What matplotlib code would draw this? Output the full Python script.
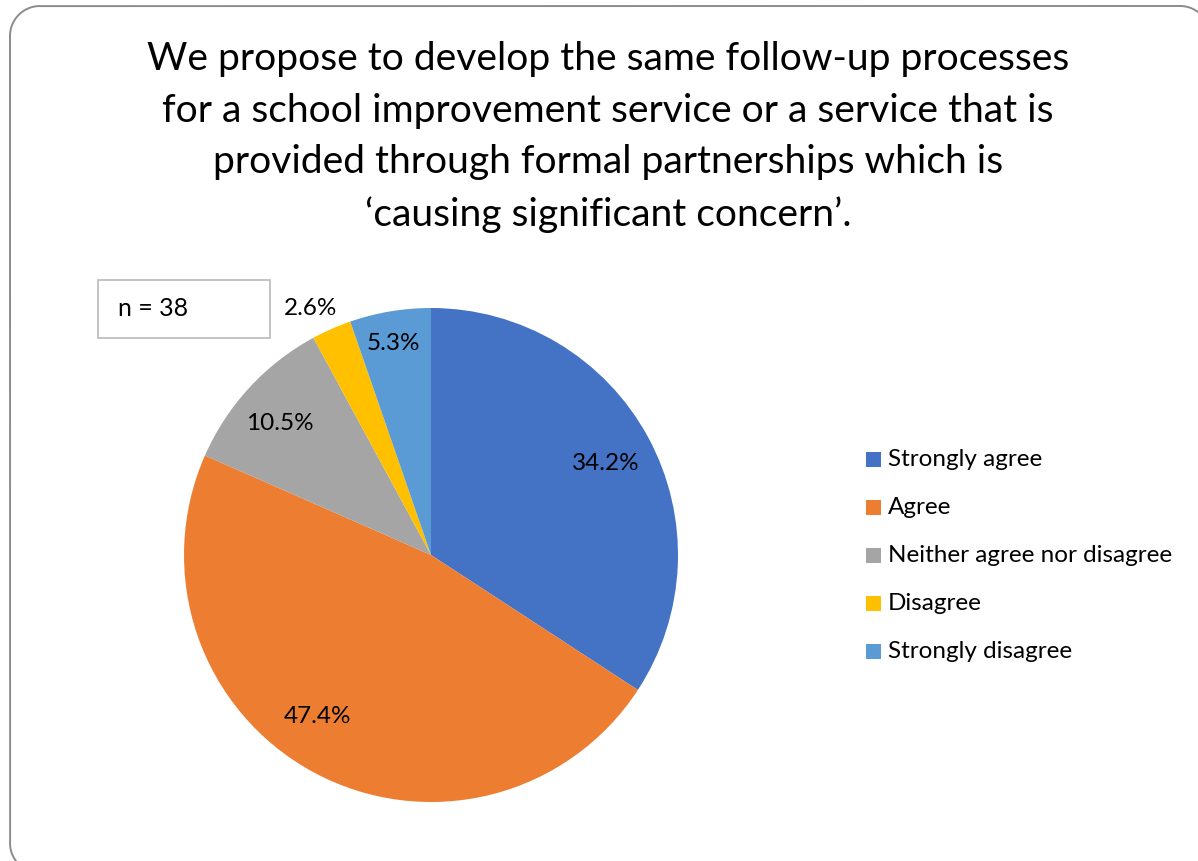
import matplotlib
matplotlib.use("Agg")
import matplotlib.pyplot as plt
import numpy as np
from matplotlib.patches import Rectangle

plt.rcParams['font.family'] = ['Lato', 'DejaVu Sans']

title_text = ("We propose to develop the same follow-up processes\n"
              "for a school improvement service or a service that is\n"
              "provided through formal partnerships which is\n"
              "\u2018causing significant concern\u2019.")
categories = ["Strongly agree", "Agree", "Neither agree nor disagree",
              "Disagree", "Strongly disagree"]
percentages = [34.2, 47.4, 10.5, 2.6, 5.3]
colors = ["#4472C4", "#ED7D31", "#A5A5A5", "#FFC000", "#5B9BD5"]
sample_note = "n = 38"

W, H = 1198, 861
fig = plt.figure(figsize=(W / 100, H / 100), dpi=100)
fig.patch.set_facecolor("white")

# pixel-space axes spanning the whole canvas
ax = fig.add_axes([0, 0, 1, 1])

cx, cy, r = 431, H - 555, 247
wedges, _ = ax.pie(percentages, colors=colors, startangle=90, counterclock=False,
                   radius=r, center=(cx, cy), frame=True,
                   wedgeprops=dict(linewidth=0))
ax.set_xlim(0, W)
ax.set_ylim(0, H)
ax.set_aspect("equal")
ax.axis("off")

# rounded slide frame, built corner by corner
def rounded_outline(x0, y0, x1, y1, rad, n=40):
    pts = []
    corners = [(x1 - rad, y1 - rad, 0, 90), (x0 + rad, y1 - rad, 90, 180),
               (x0 + rad, y0 + rad, 180, 270), (x1 - rad, y0 + rad, 270, 360)]
    for ccx, ccy, a0, a1 in corners:
        t = np.radians(np.linspace(a0, a1, n))
        pts.append(np.column_stack([ccx + rad * np.cos(t), ccy + rad * np.sin(t)]))
    pts = np.vstack(pts + [pts[0][:1]])
    return pts[:, 0], pts[:, 1]

fx, fy = rounded_outline(10, H - 873, 1210, H - 6, 30)
ax.plot(fx, fy, color="#8c8c8c", lw=1.4, zorder=0)

ax.text(608, H - 137, title_text, ha="center", va="center",
        fontsize=28.1, linespacing=1.54, color="#000000")

label_fs = 17.5

# label placement: radial factor and angular nudge per slice
label_radius = [0.80, 0.80, 0.81, 1.11, 0.87]
label_nudge = [-0.8, -6.6, 1.7, 2.2, 0.5]
cum = np.cumsum([0] + percentages)
for i, p in enumerate(percentages):
    mid = 90 - 360 * (cum[i] + p / 2) / 100 + label_nudge[i]
    rr = r * label_radius[i]
    x = cx + rr * np.cos(np.radians(mid))
    y = cy + rr * np.sin(np.radians(mid))
    ax.text(x, y, f"{p:.1f}%", ha="center", va="center", fontsize=label_fs,
            color="#000000")

# sample size box
ax.add_patch(Rectangle((98, H - 338), 172, 58, fc="white", ec="#bfbfbf", lw=1.3))
ax.text(118, H - 309, sample_note, ha="left", va="center", fontsize=18)

# legend
ly0 = H - 459
for i, (lab, col) in enumerate(zip(categories, colors)):
    y = ly0 - i * 48.2
    ax.add_patch(Rectangle((866, y - 7.5), 15, 15, fc=col, ec="none"))
    ax.text(888, y, lab, ha="left", va="center", fontsize=label_fs)

fig.savefig("out.png", dpi=100)
